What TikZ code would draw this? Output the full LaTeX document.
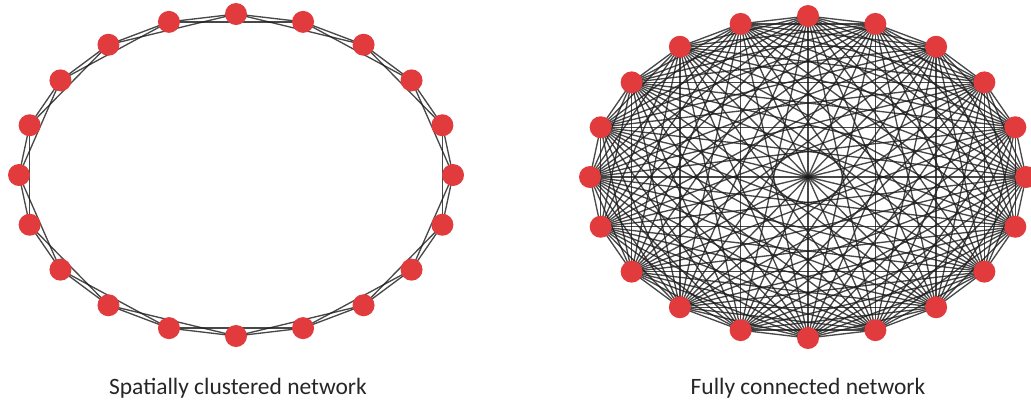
\documentclass[tikz,border=0pt]{standalone}
\usepackage{fontspec}
\setmainfont{Carlito}
\definecolor{nodered}{HTML}{E23B3D}
\definecolor{edgecol}{HTML}{1A1A1A}
\begin{document}
\begin{tikzpicture}[x=0.75pt,y=-0.75pt,
  vert/.style={circle,fill=nodered,draw=none,minimum size=16.5pt,inner sep=0pt},
  edge/.style={draw=edgecol,line width=1pt,opacity=0.8},
  caption/.style={font=\fontsize{17.6pt}{20pt}\selectfont,text=black!85}]
\useasboundingbox (0,0) rectangle (1031,405);
% node positions
\foreach \i in {0,...,19}{
  \coordinate (L\i) at ({236+217*sin(18*\i)},{175-161*cos(18*\i)});
  \coordinate (R\i) at ({808+218*sin(18*\i)},{177-161*cos(18*\i)});
}
% left edges: neighbours at distance 1 and 2
\foreach \i in {0,...,19}{
  \pgfmathtruncatemacro{\a}{mod(\i+1,20)}
  \pgfmathtruncatemacro{\b}{mod(\i+2,20)}
  \draw[edge] (L\i) -- (L\a);
  \draw[edge] (L\i) -- (L\b);
}
% right edges: complete graph
\foreach \i in {0,...,18}{
  \pgfmathtruncatemacro{\s}{\i+1}
  \foreach \j in {\s,...,19}{
    \draw[edge] (R\i) -- (R\j);
  }
}
\foreach \i in {0,...,19}{
  \node[vert] (nl\i) at (L\i) {};
  \node[vert] (nr\i) at (R\i) {};
}
\node[caption] (capL) at (238,388) {Spatially clustered network};
\node[caption] (capR) at (808,388) {Fully connected network};
\end{tikzpicture}
\end{document}
